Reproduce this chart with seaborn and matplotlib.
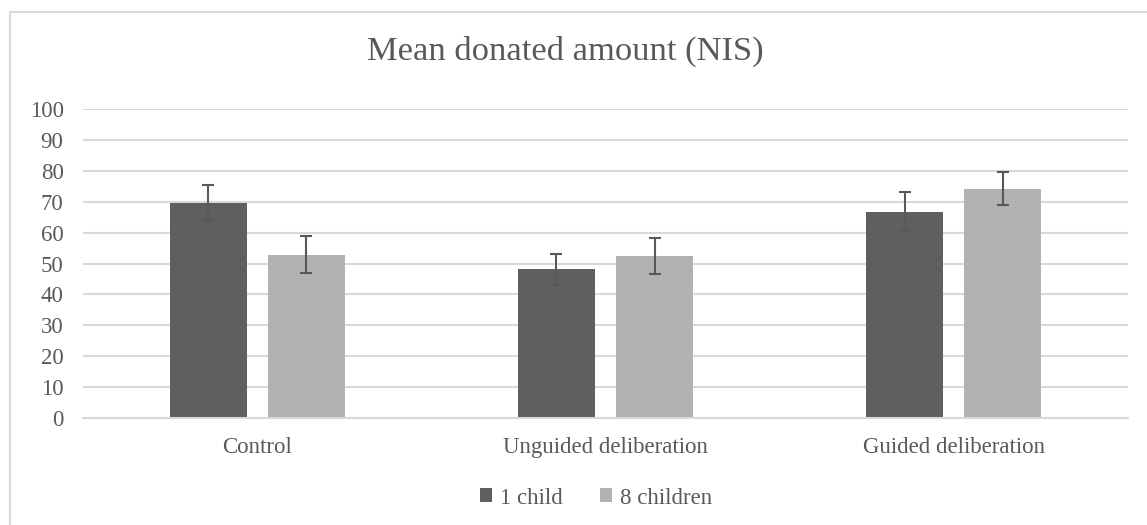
import numpy as np
import pandas as pd
import matplotlib
matplotlib.use("Agg")
import matplotlib.pyplot as plt
import seaborn as sns
from matplotlib.lines import Line2D

# --- Dados ---
conditions = ["Control", "Unguided deliberation", "Guided deliberation"]
groups = ["1 child", "8 children"]
mean_1_child = [69.7, 48.2, 66.8]
mean_8_children = [52.8, 52.4, 74.2]
err_1_child = [5.6, 5.0, 6.2]
err_8_children = [6.0, 5.8, 5.4]
y_ticks = list(range(0, 101, 10))

title_text = "Mean donated amount (NIS)"

df = pd.DataFrame({
    "condition": conditions * 2,
    "group": [groups[0]] * 3 + [groups[1]] * 3,
    "mean": mean_1_child + mean_8_children,
})
errs = [err_1_child, err_8_children]

# --- Estilo ---
sns.set_style("white")
plt.rcParams["font.family"] = ["Liberation Serif", "DejaVu Serif"]
text_color = "#595959"
grid_color = "#d9d9d9"
palette = ["#5f5f5f", "#b2b2b2"]

fig = plt.figure(figsize=(11.47, 5.25), dpi=100)
ax = fig.add_axes([83 / 1147, 107 / 525, 1045 / 1147, 309 / 525])

sns.barplot(data=df, x="condition", y="mean", hue="group", palette=palette,
            width=0.563, gap=0.214, errorbar=None, linewidth=0, ax=ax)

# barras de erro nas posições das barras
for cont, e in zip(ax.containers, errs):
    xs = [p.get_x() + p.get_width() / 2 for p in cont.patches]
    ys = [p.get_height() for p in cont.patches]
    ax.errorbar(xs, ys, yerr=e, fmt="none", ecolor=text_color,
                elinewidth=1.5, capsize=4, capthick=1.5, zorder=3)

ax.set_ylim(0, 100)
ax.set_xlim(-0.5, 2.5)
ax.set_yticks(y_ticks)
ax.yaxis.grid(True, color=grid_color, linewidth=1.5)
ax.set_axisbelow(True)
for s in ["top", "right", "left"]:
    ax.spines[s].set_visible(False)
ax.spines["bottom"].set_color(grid_color)
ax.spines["bottom"].set_linewidth(1.5)
ax.tick_params(axis="both", length=0, labelsize=16.5, colors=text_color, pad=14)
ax.set_xlabel("")
ax.set_ylabel("")

handles, labels = ax.get_legend_handles_labels()
ax.legend(handles, labels, loc="center", bbox_to_anchor=(596 / 1147, 27 / 525),
          bbox_transform=fig.transFigure, ncol=2, frameon=False,
          fontsize=16.5, labelcolor=text_color, handlelength=0.55,
          handleheight=0.55, handletextpad=0.35, columnspacing=1.6)

fig.text(565 / 1147, 474 / 525, title_text, ha="center", va="center",
         fontsize=24.8, color=text_color)

# moldura do gráfico (só topo e esquerda visíveis)
fig.add_artist(Line2D([10 / 1147, 10 / 1147], [0, 1 - 12 / 525], transform=fig.transFigure,
                      color=grid_color, linewidth=1.5))
fig.add_artist(Line2D([10 / 1147, 1], [1 - 12 / 525, 1 - 12 / 525], transform=fig.transFigure,
                      color=grid_color, linewidth=1.5))

fig.savefig("out.png", dpi=100)
plt.close(fig)
